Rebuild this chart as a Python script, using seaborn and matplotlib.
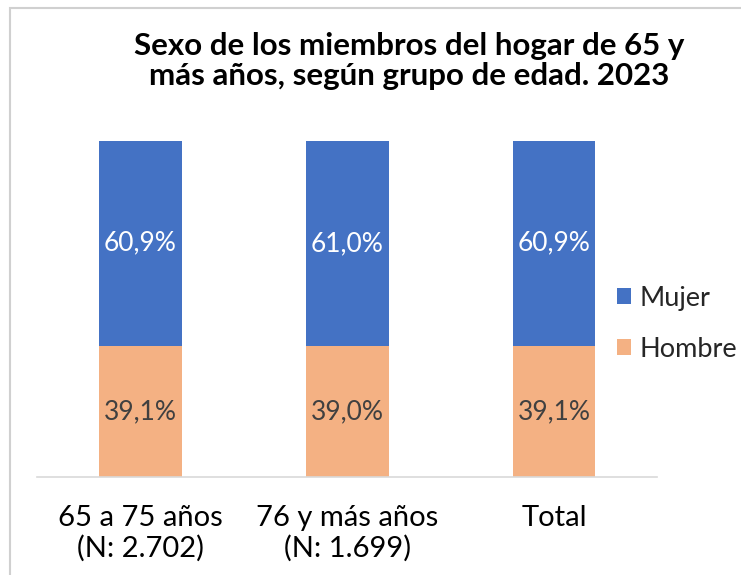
import pandas as pd
import seaborn as sns
import matplotlib.pyplot as plt
from matplotlib.patches import Rectangle

# data
grupos = ["65 a 75 años\n(N: 2.702)", "76 y más años\n(N: 1.699)", "Total"]
hombre = [39.1, 39.0, 39.1]
mujer = [60.9, 61.0, 60.9]

df = pd.DataFrame({"grupo": grupos, "Hombre": hombre, "Mujer": mujer})
df["tope"] = df["Hombre"] + df["Mujer"]

sns.set_theme(style="white")
plt.rcParams["font.family"] = ["Lato", "DejaVu Sans"]

azul = "#4472C4"
naranja = "#F4B183"

fig = plt.figure(figsize=(7.41, 5.75), dpi=100)
ax = fig.add_axes([0.05, 0.1704, 0.837, 0.5844])

# stacked: full bar (mujer on top) then hombre over it
sns.barplot(data=df, x="grupo", y="tope", color=azul, width=0.4,
            saturation=1, ax=ax, label="Mujer", linewidth=0)
sns.barplot(data=df, x="grupo", y="Hombre", color=naranja, width=0.4,
            saturation=1, ax=ax, label="Hombre", linewidth=0)

for i, (h, m) in enumerate(zip(hombre, mujer)):
    ax.text(i, h / 2, f"{h:.1f}%".replace(".", ","), ha="center", va="center",
            fontsize=19, color="#404040")
    ax.text(i, h + m / 2, f"{m:.1f}%".replace(".", ","), ha="center", va="center",
            fontsize=19, color="white")

ax.set_xlim(-0.5, 2.5)
ax.set_ylim(0, 100)
ax.set_xlabel("")
ax.set_ylabel("")
ax.set_yticks([])
ax.tick_params(axis="x", length=0, pad=20, labelsize=21, colors="#000000")
for t in ax.get_xticklabels():
    t.set_linespacing(1.2)
for s in ["top", "right", "left"]:
    ax.spines[s].set_visible(False)
ax.spines["bottom"].set_color("#d9d9d9")
ax.spines["bottom"].set_linewidth(1.2)

leg = ax.legend(loc="center left", bbox_to_anchor=(0.832, 0.437),
                bbox_transform=fig.transFigure, frameon=False, fontsize=19.5,
                handlelength=0.55, handleheight=0.55, handletextpad=0.3,
                labelspacing=0.95, borderaxespad=0, borderpad=0)

fig.text(0.552, 0.894, "Sexo de los miembros del hogar de 65 y\nmás años, según grupo de edad. 2023",
         ha="center", va="center", fontsize=22.5, fontweight="bold",
         linespacing=1.1, color="#000000")

# chart frame (cut on the right and bottom)
fig.patches.append(Rectangle((10 / 741, -0.05), 1.1, 0.05 + (575 - 8) / 575,
                             transform=fig.transFigure, fill=False,
                             edgecolor="#d0d0d0", linewidth=1.5))

fig.savefig("out.png", dpi=100)
